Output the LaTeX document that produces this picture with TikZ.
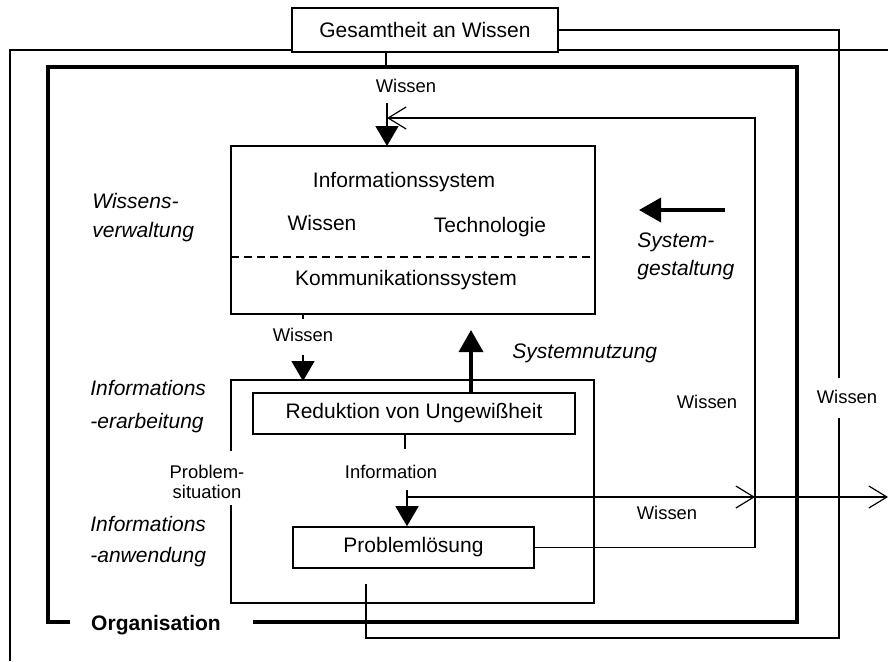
\documentclass[tikz,border=0pt]{standalone}
\usepackage{fontspec}
\setmainfont{Liberation Sans}
\usetikzlibrary{arrows.meta}
\begin{document}
\begin{tikzpicture}[x=0.5pt,y=-0.5pt,
  thinline/.style={line width=0.8pt},
  box/.style={draw,line width=0.8pt,fill=white,inner sep=0pt,font=\fontsize{10.5}{12}\selectfont},
  lbl/.style={inner sep=0pt,font=\fontsize{10.5}{12}\selectfont},
  slbl/.style={inner sep=0pt,font=\fontsize{9.2}{11}\selectfont},
  ilbl/.style={inner sep=0pt,align=left,anchor=west},
  tri/.style={-{Triangle[width=11.5pt,length=10pt]}},
  barb/.style={-{Straight Barb[length=9pt,width=11pt,line width=0.6pt]}},
  fatarrow/.style={line width=1.8pt,-{Triangle[width=12pt,length=11pt]}},
]
\useasboundingbox (0,0) rectangle (888,661);

% outermost line
\draw[thinline] (10,661) -- (10,50) -- (888,50);
\node[box,minimum width=133pt,minimum height=22pt] (gw) at (425,30) {Gesamtheit an Wissen};

% right connection from Gesamtheit an Wissen
\node[slbl] (wr) at (847,397) {Wissen};
\draw[thinline] (gw.east) -- (839,30) -- (839,378);
\draw[thinline] (839,418) -- (839,638) -- (366,638) -- (366,584);

% thick organisation frame
\draw[line width=2pt] (70,622) -- (48,622) -- (48,67) -- (797,67) -- (797,622) -- (253,622);
\node[lbl,font=\fontsize{10.5}{12}\selectfont\bfseries] (org) at (156,625) {Organisation};

% information system box
\node[box,minimum width=182pt,minimum height=84pt] (is) at (413,230) {};
\draw[thinline,dash pattern=on 4pt off 2.5pt] (231,257) -- (595,257);
\node[lbl] (isys) at (404,182) {Informationssystem};
\node[lbl] (iswi) at (322,223) {Wissen};
\node[lbl] (iste) at (490,227) {Technologie};
\node[lbl] (isko) at (406,280) {Kommunikationssystem};

% top Wissen arrow
\draw[thinline] (386,52) -- (386,67);
\node[slbl] (w1) at (406,86) {Wissen};
\draw[thinline,tri] (387,103) -- (387,146);

% inner box (information processing)
\draw[thinline] (231,451) -- (231,380) -- (594,380) -- (594,603) -- (231,603) -- (231,505);
\node[slbl,align=center] (ps) at (207,482) {Problem-\\[-1pt]situation};

% Wissen from IS to inner box
\draw[thinline] (303,314) -- (303,319);
\node[slbl] (w2) at (303,335) {Wissen};
\draw[thinline,tri] (303,355) -- (303,381);

\node[box,minimum width=161pt,minimum height=20.5pt] (red) at (414,413.5) {Reduktion von Ungewißheit};
\node[box,minimum width=120.5pt,minimum height=20.5pt] (pl) at (413.5,547.5) {Problemlösung};

\draw[thinline] (405,434) -- (405,449);
\node[slbl] (inf) at (391,472) {Information};
\draw[thinline,tri] (407,490) -- (pl.north -| 407,0);
\draw[thinline,barb] (407,497) -- (755,497);
\draw[thinline,barb] (755,497) -- (888,497);
\node[slbl] (w3) at (667,513) {Wissen};

% feedback Wissen
\draw[thinline,barb] (pl.east) -- (755,547.5) -- (755,118) -- (387,118);
\node[slbl] (w4) at (707,402) {Wissen};

% system use / system design
\draw[fatarrow] (red.north -| 471,0) -- (471,330);
\node[lbl,font=\fontsize{10.5}{12}\selectfont\itshape,anchor=west] (sn) at (512,353) {Systemnutzung};
\draw[fatarrow] (725,210) -- (639,210);
\node[ilbl,font=\fontsize{10.5}{14}\selectfont\itshape] (sg) at (637,256) {System-\\gestaltung};

% left labels
\node[ilbl,font=\fontsize{10.5}{14.5}\selectfont\itshape] (wv) at (92,217.5) {Wissens-\\verwaltung};
\node[ilbl,font=\fontsize{10.5}{16.5}\selectfont\itshape] (ie) at (90,407) {Informations\\-erarbeitung};
\node[ilbl,font=\fontsize{10.5}{15.5}\selectfont\itshape] (ia) at (90,542) {Informations\\-anwendung};
\end{tikzpicture}
\end{document}
